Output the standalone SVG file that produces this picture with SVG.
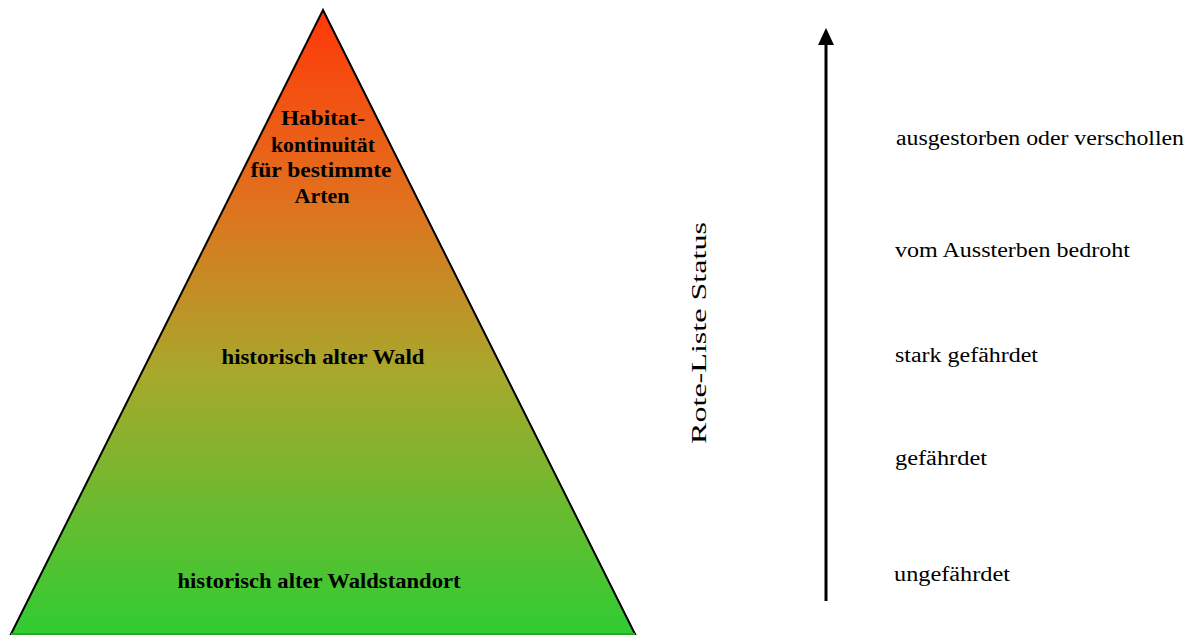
<svg xmlns="http://www.w3.org/2000/svg" width="1192" height="635" viewBox="0 0 1192 635">
<defs>
<linearGradient id="g" x1="0" y1="10" x2="0" y2="635" gradientUnits="userSpaceOnUse">
<stop offset="0" stop-color="#FF3808"/>
<stop offset="0.3" stop-color="#E2701E"/>
<stop offset="0.58" stop-color="#A8A82C"/>
<stop offset="1" stop-color="#30CC33"/>
</linearGradient>
<marker id="ah" markerWidth="17" markerHeight="16" refX="0" refY="8" orient="auto" markerUnits="userSpaceOnUse" viewBox="0 0 17 16">
<path d="M0 0 L17 8 L0 16 Z" fill="#000"/>
</marker>
<style>
.b{font-family:"Liberation Serif","DejaVu Serif",serif;font-weight:bold;font-size:20px;fill:#000;text-anchor:middle}
.r{font-family:"Liberation Serif","DejaVu Serif",serif;font-size:20px;fill:#000}
</style>
</defs>
<g id="pyramid">
<polygon points="323,10 635,634 11,634" fill="url(#g)" stroke="#000" stroke-width="2" stroke-linejoin="miter"/>
<line x1="11" y1="634" x2="635" y2="634" stroke="#2aa82a" stroke-width="2"/>
<text class="b" x="323" y="125" textLength="84" lengthAdjust="spacingAndGlyphs">Habitat-</text>
<text class="b" x="323" y="152" textLength="104" lengthAdjust="spacingAndGlyphs">kontinuität</text>
<text class="b" x="321" y="177" textLength="141" lengthAdjust="spacingAndGlyphs">für bestimmte</text>
<text class="b" x="322" y="203" textLength="55" lengthAdjust="spacingAndGlyphs">Arten</text>
<text class="b" x="323" y="364" textLength="203" lengthAdjust="spacingAndGlyphs">historisch alter Wald</text>
<text class="b" x="319" y="588" textLength="283" lengthAdjust="spacingAndGlyphs">historisch alter Waldstandort</text>
</g>
<g id="connectors">
<line x1="826" y1="601" x2="826" y2="45" stroke="#000" stroke-width="3" marker-end="url(#ah)"/>
</g>
<g id="axis-label">
<text class="r" transform="translate(706,333) rotate(-90)" text-anchor="middle" font-size="26" textLength="222" lengthAdjust="spacingAndGlyphs">Rote-Liste Status</text>
</g>
<g id="levels">
<text class="r" x="896" y="145" textLength="288" lengthAdjust="spacingAndGlyphs">ausgestorben oder verschollen</text>
<text class="r" x="895" y="257" textLength="235" lengthAdjust="spacingAndGlyphs">vom Aussterben bedroht</text>
<text class="r" x="895" y="362" textLength="143" lengthAdjust="spacingAndGlyphs">stark gefährdet</text>
<text class="r" x="895" y="465" textLength="92" lengthAdjust="spacingAndGlyphs">gefährdet</text>
<text class="r" x="894" y="581" textLength="116" lengthAdjust="spacingAndGlyphs">ungefährdet</text>
</g>
</svg>
